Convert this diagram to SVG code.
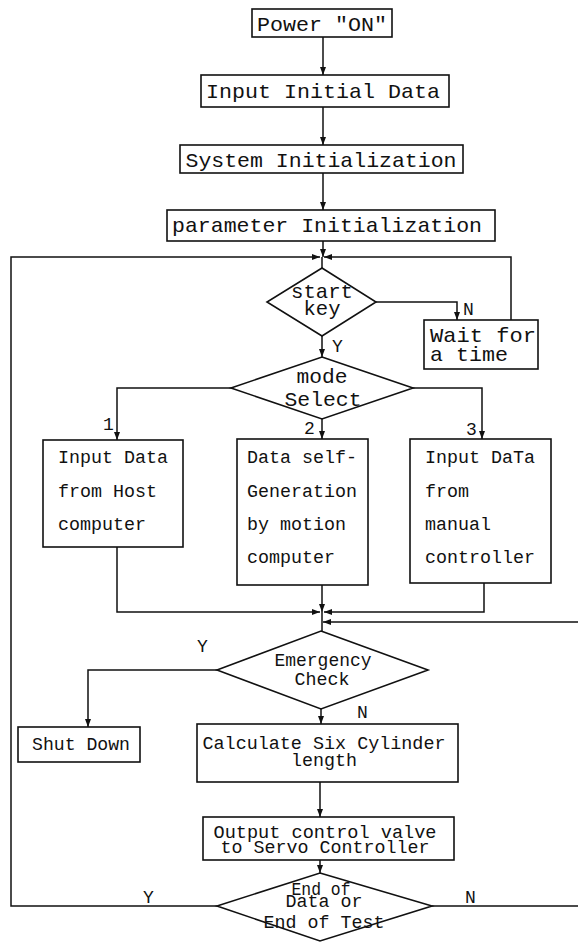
<svg xmlns="http://www.w3.org/2000/svg" width="578" height="946" viewBox="0 0 578 946">
<style>
.box{fill:#fff;stroke:#111;stroke-width:1.6}
.dia{fill:#fff;stroke:#111;stroke-width:1.6}
.ln{fill:none;stroke:#111;stroke-width:1.5}
.t{font-family:"Liberation Mono","DejaVu Sans Mono",monospace;fill:#111}
.big{font-size:21px}
.mid{font-size:18px}
.c{text-anchor:middle}
</style>
<defs>
<marker id="ar" markerUnits="userSpaceOnUse" markerWidth="8" markerHeight="6" refX="8" refY="3" orient="auto">
<path d="M0,0 L8,3 L0,6 z" fill="#111"/>
</marker>
</defs>
<rect width="578" height="946" fill="#fff"/>
<g id="connectors">
<path class="ln" d="M323,37 V75" marker-end="url(#ar)"/>
<path class="ln" d="M323,107 V145" marker-end="url(#ar)"/>
<path class="ln" d="M323,173 V210" marker-end="url(#ar)"/>
<path class="ln" d="M323,241 V257" marker-end="url(#ar)"/>
<path class="ln" d="M322,257 V268"/>
<path class="ln" d="M217,906 H11 V257 H320" marker-end="url(#ar)"/>
<path class="ln" d="M511,320 V257 H324" marker-end="url(#ar)"/>
<path class="ln" d="M376,302 H457 V320" marker-end="url(#ar)"/>
<path class="ln" d="M322,336 V357" marker-end="url(#ar)"/>
<path class="ln" d="M231,388 H117 V440" marker-end="url(#ar)"/>
<path class="ln" d="M322,419 V439" marker-end="url(#ar)"/>
<path class="ln" d="M413,388 H482 V439" marker-end="url(#ar)"/>
<path class="ln" d="M117,547 V612 H320" marker-end="url(#ar)"/>
<path class="ln" d="M322,585 V612" marker-end="url(#ar)"/>
<path class="ln" d="M484,583 V612 H324" marker-end="url(#ar)"/>
<path class="ln" d="M322,612 V631"/>
<path class="ln" d="M432,906 H580 V622 H323" marker-end="url(#ar)"/>
<path class="ln" d="M217,670 H88 V727" marker-end="url(#ar)"/>
<path class="ln" d="M321,709 V724" marker-end="url(#ar)"/>
<path class="ln" d="M320,782 V817" marker-end="url(#ar)"/>
<path class="ln" d="M320,860 V873" marker-end="url(#ar)"/>
<text class="t mid" x="463" y="315">N</text>
<text class="t mid" x="332" y="352">Y</text>
<text class="t mid" x="103" y="430">1</text>
<text class="t mid" x="304" y="434">2</text>
<text class="t mid" x="466" y="435">3</text>
<text class="t mid" x="197" y="652">Y</text>
<text class="t mid" x="357" y="718">N</text>
<text class="t mid" x="143" y="903">Y</text>
<text class="t mid" x="465" y="903">N</text>
</g>
<g id="power">
<rect class="box" x="252" y="9" width="140" height="28"/>
<text class="t big c" x="322" y="31" textLength="130" lengthAdjust="spacingAndGlyphs">Power "ON"</text>
</g>
<g id="input-initial">
<rect class="box" x="201" y="75" width="248" height="32"/>
<text class="t big c" x="323" y="98" textLength="234" lengthAdjust="spacingAndGlyphs">Input Initial Data</text>
</g>
<g id="system-init">
<rect class="box" x="180" y="145" width="283" height="28"/>
<text class="t big c" x="321" y="167" textLength="271" lengthAdjust="spacingAndGlyphs">System Initialization</text>
</g>
<g id="param-init">
<rect class="box" x="167" y="210" width="328" height="31"/>
<text class="t big c" x="327" y="232" textLength="310" lengthAdjust="spacingAndGlyphs">parameter Initialization</text>
</g>
<g id="start-key">
<polygon class="dia" points="322,268 376,302 322,336 267,302"/>
<text class="t big c" x="322" y="298" textLength="62" lengthAdjust="spacingAndGlyphs">start</text>
<text class="t big c" x="322" y="315" textLength="37" lengthAdjust="spacingAndGlyphs">key</text>
</g>
<g id="wait">
<rect class="box" x="424" y="320" width="114" height="49"/>
<text class="t big" x="430" y="342" textLength="106" lengthAdjust="spacingAndGlyphs">Wait for</text>
<text class="t big" x="430" y="361" textLength="78" lengthAdjust="spacingAndGlyphs">a time</text>
</g>
<g id="mode-select">
<polygon class="dia" points="322,357 413,388 322,419 231,388"/>
<text class="t big c" x="322" y="383" textLength="51" lengthAdjust="spacingAndGlyphs">mode</text>
<text class="t big c" x="323" y="406" textLength="77" lengthAdjust="spacingAndGlyphs">Select</text>
</g>
<g id="host-input">
<rect class="box" x="43" y="440" width="140" height="107"/>
<text class="t mid" x="58" y="463" textLength="110" lengthAdjust="spacingAndGlyphs">Input Data</text>
<text class="t mid" x="58" y="497" textLength="99" lengthAdjust="spacingAndGlyphs">from Host</text>
<text class="t mid" x="58" y="530" textLength="88" lengthAdjust="spacingAndGlyphs">computer</text>
</g>
<g id="self-gen">
<rect class="box" x="237" y="439" width="131" height="146"/>
<text class="t mid" x="247" y="463" textLength="110" lengthAdjust="spacingAndGlyphs">Data self-</text>
<text class="t mid" x="247" y="497" textLength="110" lengthAdjust="spacingAndGlyphs">Generation</text>
<text class="t mid" x="247" y="530" textLength="99" lengthAdjust="spacingAndGlyphs">by motion</text>
<text class="t mid" x="247" y="563" textLength="88" lengthAdjust="spacingAndGlyphs">computer</text>
</g>
<g id="manual-input">
<rect class="box" x="410" y="439" width="141" height="144"/>
<text class="t mid" x="425" y="463" textLength="110" lengthAdjust="spacingAndGlyphs">Input DaTa</text>
<text class="t mid" x="425" y="497" textLength="44" lengthAdjust="spacingAndGlyphs">from</text>
<text class="t mid" x="425" y="530" textLength="66" lengthAdjust="spacingAndGlyphs">manual</text>
<text class="t mid" x="425" y="563" textLength="110" lengthAdjust="spacingAndGlyphs">controller</text>
</g>
<g id="emergency">
<polygon class="dia" points="321,631 428,670 321,709 217,670"/>
<text class="t mid c" x="323" y="666" textLength="97" lengthAdjust="spacingAndGlyphs">Emergency</text>
<text class="t mid c" x="322" y="685" textLength="55" lengthAdjust="spacingAndGlyphs">Check</text>
</g>
<g id="shutdown">
<rect class="box" x="18" y="727" width="122" height="35"/>
<text class="t mid" x="32" y="750" textLength="98" lengthAdjust="spacingAndGlyphs">Shut Down</text>
</g>
<g id="calculate">
<rect class="box" x="197" y="724" width="261" height="58"/>
<text class="t mid c" x="324" y="749" textLength="243" lengthAdjust="spacingAndGlyphs">Calculate Six Cylinder</text>
<text class="t mid c" x="324" y="766" textLength="66" lengthAdjust="spacingAndGlyphs">length</text>
</g>
<g id="output">
<rect class="box" x="203" y="817" width="251" height="43"/>
<text class="t mid c" x="325" y="838" textLength="223" lengthAdjust="spacingAndGlyphs">Output control valve</text>
<text class="t mid c" x="325" y="853" textLength="209" lengthAdjust="spacingAndGlyphs">to Servo Controller</text>
</g>
<g id="end-check">
<polygon class="dia" points="320,873 432,906 320,941 217,906"/>
<text class="t mid c" x="321" y="895" textLength="59" lengthAdjust="spacingAndGlyphs">End of</text>
<text class="t mid c" x="324" y="907" textLength="77" lengthAdjust="spacingAndGlyphs">Data or</text>
<text class="t mid c" x="324" y="928" textLength="121" lengthAdjust="spacingAndGlyphs">End of Test</text>
</g>
</svg>
